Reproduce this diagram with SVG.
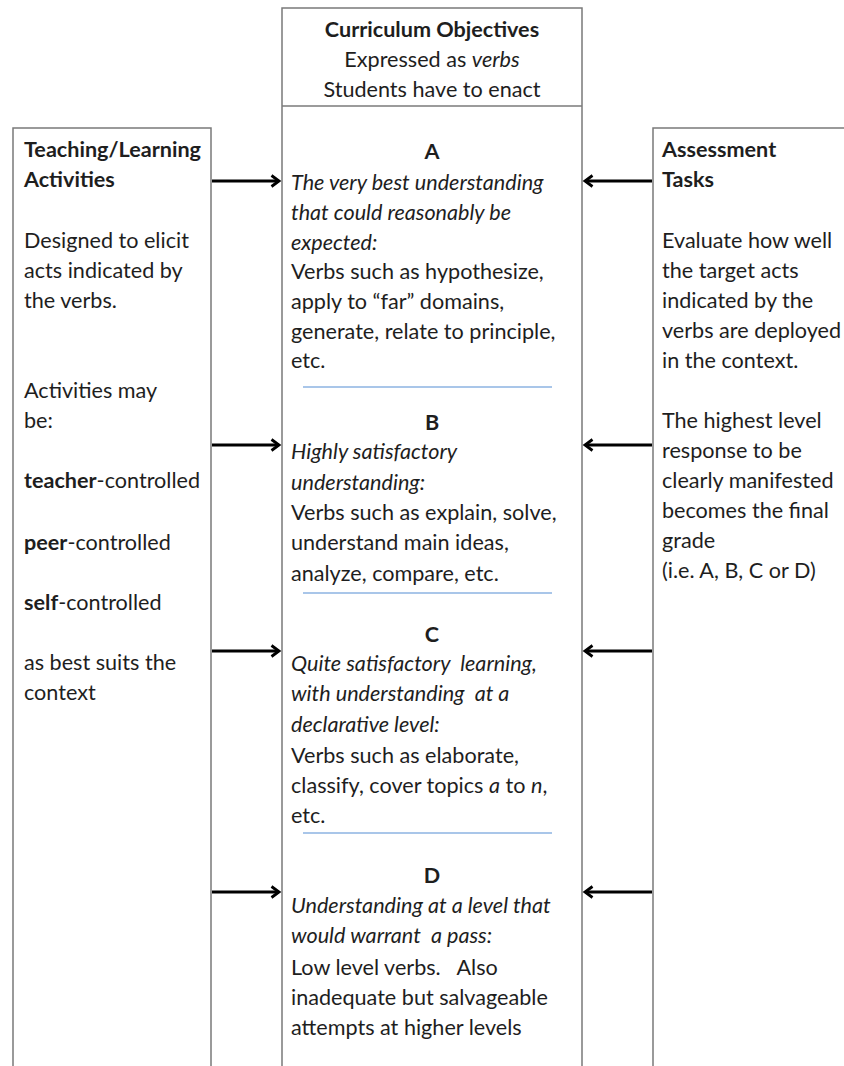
<svg xmlns="http://www.w3.org/2000/svg" width="844" height="1066" viewBox="0 0 844 1066">
<style>
  text { font-family: Lato, "Liberation Sans", sans-serif; font-size: 21.6px; fill: #1e1e1e; }
  .b { font-weight: bold; }
  .i { font-style: italic; }
  .c { text-anchor: middle; }
  .box { fill: #fff; stroke: #7a7a7a; stroke-width: 1.5; }
  .sep { stroke: #8db3e2; stroke-width: 1.5; }
  .arr { stroke: #000; stroke-width: 2.8; fill: none; }
</style>
<defs>
  <marker id="ah" markerWidth="12" markerHeight="14" refX="9" refY="7" orient="auto" markerUnits="userSpaceOnUse">
    <path d="M1.5,1.5 L9,7 L1.5,12.5" fill="none" stroke="#000" stroke-width="2.8" stroke-linejoin="miter"/>
  </marker>
</defs>
<rect width="844" height="1066" fill="#fff"/>

<g id="teaching-learning">
  <path class="box" d="M13,1070 L13,128 L211,128 L211,1070"/>
  <text x="24" y="157" class="b">Teaching/Learning</text>
  <text x="24" y="187" class="b">Activities</text>
  <text x="24" y="248">Designed to elicit</text>
  <text x="24" y="278">acts indicated by</text>
  <text x="24" y="308">the verbs.</text>
  <text x="24" y="398">Activities may</text>
  <text x="24" y="428">be:</text>
  <text x="24" y="488"><tspan class="b">teacher</tspan>-controlled</text>
  <text x="24" y="550"><tspan class="b">peer</tspan>-controlled</text>
  <text x="24" y="610"><tspan class="b">self</tspan>-controlled</text>
  <text x="24" y="670">as best suits the</text>
  <text x="24" y="700">context</text>
</g>

<g id="curriculum-objectives">
  <path class="box" d="M282,1070 L282,8 L582,8 L582,1070"/>
  <line x1="282" y1="106" x2="582" y2="106" stroke="#7a7a7a" stroke-width="1.5"/>
  <text x="432" y="37" class="c b">Curriculum Objectives</text>
  <text x="432" y="67" class="c">Expressed as <tspan class="i">verbs</tspan></text>
  <text x="432" y="97" class="c">Students have to enact</text>
</g>

<g id="level-a">
  <text x="432" y="159" class="c b">A</text>
  <text x="291" y="190" class="i">The very best understanding</text>
  <text x="291" y="220" class="i">that could reasonably be</text>
  <text x="291" y="250" class="i">expected:</text>
  <text x="291" y="279">Verbs such as hypothesize,</text>
  <text x="291" y="309">apply to “far” domains,</text>
  <text x="291" y="339">generate, relate to principle,</text>
  <text x="291" y="368">etc.</text>
  <line class="sep" x1="303" y1="387" x2="552" y2="387"/>
</g>

<g id="level-b">
  <text x="432" y="430" class="c b">B</text>
  <text x="291" y="459" class="i">Highly satisfactory</text>
  <text x="291" y="490" class="i">understanding:</text>
  <text x="291" y="520">Verbs such as explain, solve,</text>
  <text x="291" y="550">understand main ideas,</text>
  <text x="291" y="581">analyze, compare, etc.</text>
  <line class="sep" x1="303" y1="593" x2="552" y2="593"/>
</g>

<g id="level-c">
  <text x="432" y="642" class="c b">C</text>
  <text x="291" y="671" class="i" xml:space="preserve">Quite satisfactory  learning,</text>
  <text x="291" y="701" class="i" xml:space="preserve">with understanding  at a</text>
  <text x="291" y="732" class="i">declarative level:</text>
  <text x="291" y="763">Verbs such as elaborate,</text>
  <text x="291" y="793">classify, cover topics <tspan class="i">a</tspan> to <tspan class="i">n</tspan>,</text>
  <text x="291" y="823">etc.</text>
  <line class="sep" x1="303" y1="833" x2="552" y2="833"/>
</g>

<g id="level-d">
  <text x="432" y="883" class="c b">D</text>
  <text x="291" y="913" class="i">Understanding at a level that</text>
  <text x="291" y="943" class="i" xml:space="preserve">would warrant  a pass:</text>
  <text x="291" y="975" xml:space="preserve">Low level verbs.   Also</text>
  <text x="291" y="1005">inadequate but salvageable</text>
  <text x="291" y="1035">attempts at higher levels</text>
</g>

<g id="assessment-tasks">
  <path class="box" d="M653,1070 L653,128 L850,128"/>
  <text x="662" y="157" class="b">Assessment</text>
  <text x="662" y="187" class="b">Tasks</text>
  <text x="662" y="248">Evaluate how well</text>
  <text x="662" y="278">the target acts</text>
  <text x="662" y="308">indicated by the</text>
  <text x="662" y="338">verbs are deployed</text>
  <text x="662" y="368">in the context.</text>
  <text x="662" y="428">The highest level</text>
  <text x="662" y="458">response to be</text>
  <text x="662" y="488">clearly manifested</text>
  <text x="662" y="518">becomes the final</text>
  <text x="662" y="548">grade</text>
  <text x="662" y="578">(i.e. A, B, C or D)</text>
</g>

<g id="connectors">
  <line class="arr" x1="212" y1="181" x2="279" y2="181" marker-end="url(#ah)"/>
  <line class="arr" x1="212" y1="445" x2="279" y2="445" marker-end="url(#ah)"/>
  <line class="arr" x1="212" y1="651" x2="279" y2="651" marker-end="url(#ah)"/>
  <line class="arr" x1="212" y1="892" x2="279" y2="892" marker-end="url(#ah)"/>
  <line class="arr" x1="652" y1="181" x2="585" y2="181" marker-end="url(#ah)"/>
  <line class="arr" x1="652" y1="445" x2="585" y2="445" marker-end="url(#ah)"/>
  <line class="arr" x1="652" y1="651" x2="585" y2="651" marker-end="url(#ah)"/>
  <line class="arr" x1="652" y1="892" x2="585" y2="892" marker-end="url(#ah)"/>
</g>
</svg>
